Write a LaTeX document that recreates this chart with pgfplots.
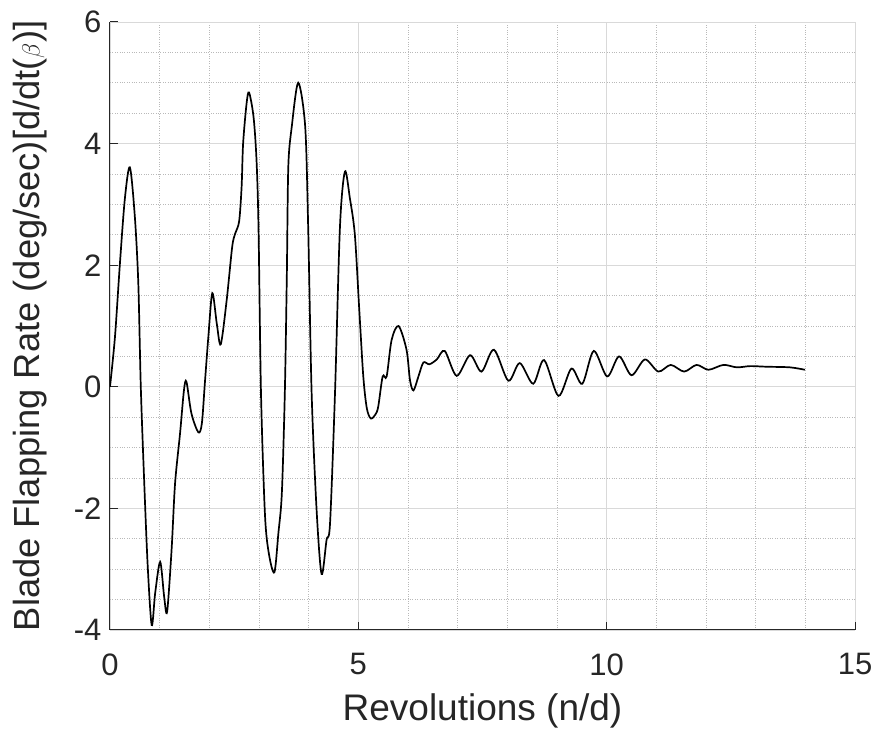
\documentclass[border=0pt]{standalone}
\usepackage{fontspec}
\setmainfont{Liberation Sans}
\usepackage{pgfplots}
\pgfplotsset{compat=1.18}
\definecolor{axgray}{gray}{0.15}
\begin{document}
\begin{tikzpicture}
\useasboundingbox (-110pt,-111pt) rectangle (771pt,630pt);
\begin{axis}[
 at={(0pt,0pt)}, anchor=south west,
 scale only axis, width=745pt, height=608pt,
 xmin=0, xmax=15, ymin=-4, ymax=6,
 xtick={0,5,10,15}, ytick={-4,-2,0,2,4,6},
 minor xtick={1,2,3,4,6,7,8,9,11,12,13,14},
 minor ytick={-3.5,-3,-2.5,-1.5,-1,-0.5,0.5,1,1.5,2.5,3,3.5,4.5,5,5.5},
 grid=both,
 major grid style={gray!30, line width=0.8pt},
 minor grid style={gray!55, dotted, line width=0.9pt},
 axis x line*=bottom, axis y line*=left,
 axis line style={axgray, line width=1pt, -},
 tick align=inside, major tick length=8pt, minor tick length=0pt,
 tick style={axgray, line width=1pt},
 ticklabel style={font=\fontsize{31}{31}\selectfont, text=axgray},
 xticklabel style={yshift=-20pt},
 yticklabel style={xshift=-5pt},
 /pgf/number format/assume math mode=true,
 xlabel={Revolutions (n/d)},
 ylabel={Blade Flapping Rate (deg/sec)[d/dt($\beta$)]},
 label style={text=axgray},
 xlabel style={font=\fontsize{37}{37}\selectfont, at={(axis description cs:0.5,-0.133)}, anchor=center},
 ylabel style={font=\fontsize{36.3}{36.3}\selectfont, at={(axis description cs:-0.107,0.5)}, anchor=center},
]
\addplot[black, line width=1.7pt, smooth, tension=0.5] coordinates {
(0,0) (0.10,0.82) (0.20,2.03) (0.30,3.1) (0.40,3.61) (0.50,2.80) (0.57,1.70)
(0.62,0.0) (0.69,-1.59) (0.76,-2.96) (0.84,-3.92) (0.91,-3.39) (1.01,-2.88)
(1.09,-3.45) (1.15,-3.70) (1.24,-2.68) (1.31,-1.59) (1.41,-0.77) (1.49,-0.05)
(1.54,0.08) (1.64,-0.44) (1.78,-0.75) (1.85,-0.6) (1.91,0.06) (1.98,0.82)
(2.06,1.54) (2.15,1.04) (2.23,0.70) (2.35,1.43) (2.46,2.30) (2.52,2.52)
(2.60,2.72) (2.65,3.29) (2.68,4.0) (2.75,4.66) (2.80,4.84) (2.89,4.44)
(2.95,3.73) (2.99,2.63) (3.04,-0.10) (3.12,-2.10) (3.20,-2.75) (3.31,-3.05)
(3.39,-2.41) (3.46,-1.75) (3.52,-0.10) (3.56,1.81) (3.59,3.62) (3.66,4.28)
(3.79,5.00) (3.93,4.28) (3.99,2.63) (4.06,-0.11) (4.16,-2.03) (4.26,-3.08)
(4.36,-2.52) (4.43,-2.25) (4.53,-0.11) (4.63,2.63) (4.73,3.54) (4.83,3.10)
(4.93,2.50) (5.02,1.25) (5.10,0.17) (5.17,-0.35) (5.25,-0.52)
(5.34,-0.46) (5.40,-0.33) (5.49,0.17) (5.57,0.17) (5.67,0.77) (5.81,1.00)
(5.97,0.61) (6.04,0.11) (6.11,-0.06) (6.21,0.17) (6.31,0.40) (6.43,0.37)
(6.58,0.45) (6.74,0.59) (6.98,0.18) (7.25,0.52) (7.48,0.25) (7.73,0.61)
(8.02,0.10) (8.25,0.39) (8.52,0.05) (8.74,0.44) (9.03,-0.15) (9.29,0.30)
(9.51,0.05) (9.74,0.59) (10.01,0.17) (10.25,0.50) (10.50,0.19) (10.77,0.45)
(11.04,0.25) (11.29,0.36) (11.56,0.25) (11.81,0.36) (12.05,0.28) (12.35,0.36)
(12.62,0.32) (12.89,0.34) (13.22,0.33) (13.69,0.32) (13.99,0.28)
};
\end{axis}
\end{tikzpicture}
\end{document}
